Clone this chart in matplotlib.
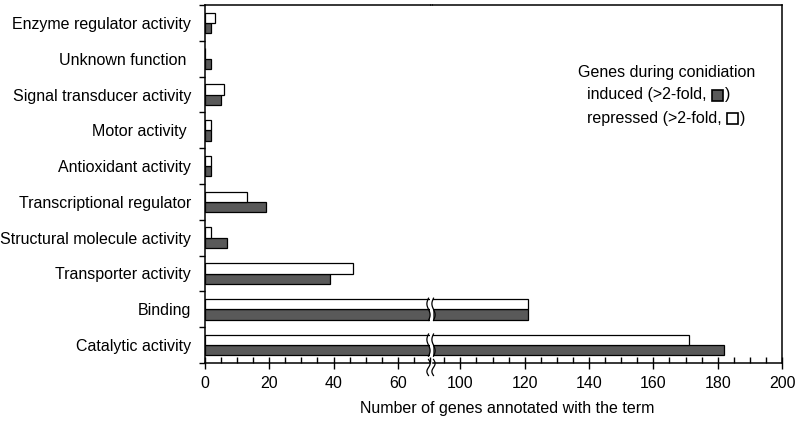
import numpy as np
import matplotlib
matplotlib.use("Agg")
import matplotlib.pyplot as plt
from matplotlib.patches import Rectangle
from matplotlib.transforms import blended_transform_factory
from matplotlib.ticker import MultipleLocator, FixedLocator

plt.rcParams['font.family'] = ['Liberation Sans', 'DejaVu Sans']

categories = ["Catalytic activity", "Binding", "Transporter activity",
              "Structural molecule activity", "Transcriptional regulator",
              "Antioxidant activity", "Motor activity ",
              "Signal transducer activity", "Unknown function ",
              "Enzyme regulator activity"]
induced = [182, 121, 39, 7, 19, 2, 2, 5, 2, 2]
repressed = [171, 121, 46, 2, 13, 2, 2, 6, 0, 3]

W, H = 796, 424
FS = 11.5
fig = plt.figure(figsize=(W / 100, H / 100), dpi=100)

def fx(px):
    return px / W

def fy(py):
    return 1 - py / H

top, bot = 5, 363
axL = fig.add_axes([fx(205), fy(bot), fx(430 - 205), fy(top) - fy(bot)])
axR = fig.add_axes([fx(433), fy(bot), fx(782 - 433), fy(top) - fy(bot)])

y = np.arange(len(categories))
bh = 0.29
dark = '#595959'
for ax in (axL, axR):
    ax.barh(y - bh / 2, induced, height=bh, color=dark, edgecolor='black', linewidth=0.9)
    ax.barh(y + bh / 2, repressed, height=bh, color='white', edgecolor='black', linewidth=0.9)
    ax.set_ylim(-0.5, len(categories) - 0.5)
    ax.xaxis.set_minor_locator(MultipleLocator(5))
    ax.tick_params(axis='x', which='major', direction='inout', length=9, width=1, labelsize=FS, pad=5)
    ax.tick_params(axis='x', which='minor', direction='in', length=4.5, width=1)
    for s in ax.spines.values():
        s.set_linewidth(1.1)

axL.set_xlim(0, 70)
axR.set_xlim(91.5, 200)
axL.xaxis.set_major_locator(FixedLocator([0, 20, 40, 60]))
axR.xaxis.set_major_locator(FixedLocator([100, 120, 140, 160, 180, 200]))
axR.xaxis.set_minor_locator(FixedLocator(list(range(95, 200, 5))))

axL.spines['right'].set_visible(False)
axR.spines['left'].set_visible(False)
axR.set_yticks([])

axL.set_yticks(y)
axL.set_yticklabels(categories, fontsize=FS)
axL.tick_params(axis='y', which='major', length=0, pad=10)
axL.yaxis.set_minor_locator(FixedLocator(np.arange(-0.5, len(categories), 1.0)))
axL.tick_params(axis='y', which='minor', direction='out', length=4.5, width=1)

# top spine across the gap (drawn in axes coords of the left axes so it aligns with the spine)
axL.plot([1.0, 1.0 + 3.5 / 225], [1.0, 1.0], transform=axL.transAxes, color='black',
         lw=1.1, clip_on=False, solid_capstyle='butt')

# break marks
trd = blended_transform_factory(fig.transFigure, axL.transData)
tra = blended_transform_factory(fig.transFigure, axL.transAxes)
t = np.linspace(0, 1, 40)
for xc in (fx(428.5), fx(433.5)):
    for i in (0, 1):
        y0, y1 = i - bh - 0.02, i + bh + 0.02
        yy = y0 + (y1 - y0) * t
        xx = xc + fx(1.6) * np.sin(2 * np.pi * t)
        fig.add_artist(plt.Line2D(xx, yy, color='black', lw=0.9, transform=trd))
    yy = 0.01 - 0.045 * t
    xx = xc + fx(1.6) * np.sin(2 * np.pi * t)
    fig.add_artist(plt.Line2D(xx, yy, color='black', lw=0.9, transform=tra))

fig.text(fx(507), fy(409), "Number of genes annotated with the term", ha='center', va='center', fontsize=FS)

# legend text
fig.text(fx(578), fy(73), "Genes during conidiation", ha='left', va='center', fontsize=FS)
t1 = fig.text(fx(587), fy(95), "induced (>2-fold, ", ha='left', va='center', fontsize=FS)
t2 = fig.text(fx(587), fy(118), "repressed (>2-fold, ", ha='left', va='center', fontsize=FS)
fig.canvas.draw()
r = fig.canvas.get_renderer()
for tt, col, ypx in ((t1, dark, 95), (t2, 'white', 118)):
    bb = tt.get_window_extent(r)
    x0 = bb.x1 + 1
    fig.add_artist(Rectangle((fx(x0), fy(ypx + 5.5)), fx(11), 11 / H, facecolor=col,
                             edgecolor='black', lw=1.2, transform=fig.transFigure))
    fig.text(fx(x0 + 13), fy(ypx), ")", ha='left', va='center', fontsize=FS)

fig.savefig("out.png", dpi=100)
